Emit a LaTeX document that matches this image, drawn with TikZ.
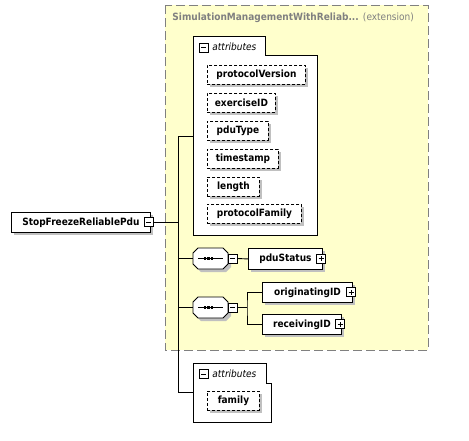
\documentclass[tikz,border=0pt]{standalone}
\usepackage{fontspec}
\setmainfont{DejaVu Sans Condensed}
\usetikzlibrary{shadows}
\definecolor{extfill}{RGB}{255,255,204}
\definecolor{extline}{RGB}{128,128,128}
\definecolor{shadowgray}{RGB}{192,192,192}
\begin{document}
\begin{tikzpicture}[x=1pt,y=-1pt,line width=0.9pt,
  font=\fontsize{10}{12}\selectfont\bfseries,
  shd/.style={drop shadow={shadow xshift=3pt,shadow yshift=-3pt,fill=shadowgray,opacity=1}},
  elem/.style={draw,fill=white,minimum height=20pt,inner sep=0pt,anchor=north west,shd},
  attrbox/.style={elem,minimum height=19pt,dash pattern=on 3pt off 2pt},
  minusicon/.style={draw,fill=white,minimum size=9pt,inner sep=0pt,line width=0.8pt,
    path picture={\draw[line width=0.8pt] ([xshift=2pt]path picture bounding box.west) -- ([xshift=-2pt]path picture bounding box.east);}},
  plusicon/.style={minusicon,
    path picture={\draw[line width=0.8pt] ([xshift=2pt]path picture bounding box.west) -- ([xshift=-2pt]path picture bounding box.east);
      \draw[line width=0.8pt] ([yshift=2pt]path picture bounding box.south) -- ([yshift=-2pt]path picture bounding box.north);}},
  grp/.style={draw,fill=white},
  conn/.style={draw,line width=0.9pt},
  attrlabel/.style={anchor=west,inner sep=0pt,font=\fontsize{10}{12}\selectfont\itshape},
]
\useasboundingbox (0,0) rectangle (469,440);

% extension box
\draw[fill=extfill,draw=extline,line width=0.9pt,dash pattern=on 9pt off 4pt] (165,5) rectangle (428,350);
\node[anchor=west,inner sep=0pt,text=extline] (exttitle) at (172,18) {SimulationManagementWithReliab... {\mdseries (extension)}};

% attribute group 1
\draw[grp] (193,36) -- (265,36) -- (265,55) -- (317,55) -- (317,235) -- (193,235) -- cycle;
\node[minusicon] (g1m) at (203.5,47.5) {};
\node[attrlabel] (g1l) at (212,47) {attributes};
\coordinate (g1) at (193,136);
\node[attrbox,minimum width=98pt] (pv) at (207,65) {protocolVersion};
\node[attrbox,minimum width=68pt] (ex) at (207,93) {exerciseID};
\node[attrbox,minimum width=61pt] (pt) at (207,121) {pduType};
\node[attrbox,minimum width=71pt] (ts) at (207,149) {timestamp};
\node[attrbox,minimum width=52pt] (len) at (207,177) {length};
\node[attrbox,minimum width=94pt] (pf) at (207,204) {protocolFamily};

% attribute group 2
\draw[grp] (193,363) -- (266,363) -- (266,383) -- (271,383) -- (271,422) -- (193,422) -- cycle;
\node[minusicon] (g2m) at (203.5,374) {};
\node[attrlabel] (g2l) at (212,373.5) {attributes};
\coordinate (g2) at (193,392);
\node[attrbox,minimum width=52pt] (fam) at (207,391) {family};

% root
\node[elem,minimum width=139pt] (root) at (11,212) {StopFreezeReliablePdu\hspace{4pt}};
\node[minusicon] (rootm) at (148.5,222) {};

% spine
\coordinate (sp1) at (178,136);
\coordinate (sp2) at (178,392);
\draw[conn] (sp1) -- (sp2);
\draw[conn] (sp1) -- (g1);
\draw[conn] (sp2) -- (g2);
\draw[conn] (rootm.east) -- (rootm.east -| sp1);

% sequence 1
\fill[shadowgray] (201,251) -- (226,251) -- (231,256) -- (231,267) -- (226,272) -- (201,272) -- (196,267) -- (196,256) -- cycle;
\draw[fill=white] (198,248) -- (223,248) -- (228,253) -- (228,264) -- (223,269) -- (198,269) -- (193,264) -- (193,253) -- cycle;
\draw (198,258.5) -- (223,258.5);
\foreach \x in {205,208.5,212} \fill (\x-1.2,257.3) rectangle (\x+1.2,259.7);
\coordinate (s1w) at (193,258.5);
\node[minusicon] (s1m) at (232.5,258.5) {};
\draw[conn] (s1w -| sp1) -- (s1w);
\node[elem,minimum width=74pt,minimum height=21pt] (pdu) at (248,248) {pduStatus\hspace{5pt}};
\node[plusicon] (pdup) at (321,258.5) {};
\draw[conn] (s1m.east) -- (pdu.west);

% sequence 2
\fill[shadowgray] (201,300) -- (226,300) -- (231,305) -- (231,316) -- (226,321) -- (201,321) -- (196,316) -- (196,305) -- cycle;
\draw[fill=white] (198,297) -- (223,297) -- (228,302) -- (228,313) -- (223,318) -- (198,318) -- (193,313) -- (193,302) -- cycle;
\draw (198,307.5) -- (223,307.5);
\foreach \x in {205,208.5,212} \fill (\x-1.2,306.3) rectangle (\x+1.2,308.7);
\coordinate (s2w) at (193,307.5);
\node[minusicon] (s2m) at (232.5,307.5) {};
\draw[conn] (s2w -| sp1) -- (s2w);
\node[elem,minimum width=90pt] (orig) at (262,282) {originatingID\hspace{5pt}};
\node[plusicon] (origp) at (351,292) {};
\node[elem,minimum width=79pt] (recv) at (262,314) {receivingID\hspace{5pt}};
\node[plusicon] (recvp) at (340,324) {};
\coordinate (br) at (247,307.5);
\draw[conn] (s2m.east) -- (br);
\draw[conn] (orig.west) -| (br) |- (recv.west);
\end{tikzpicture}
\end{document}
